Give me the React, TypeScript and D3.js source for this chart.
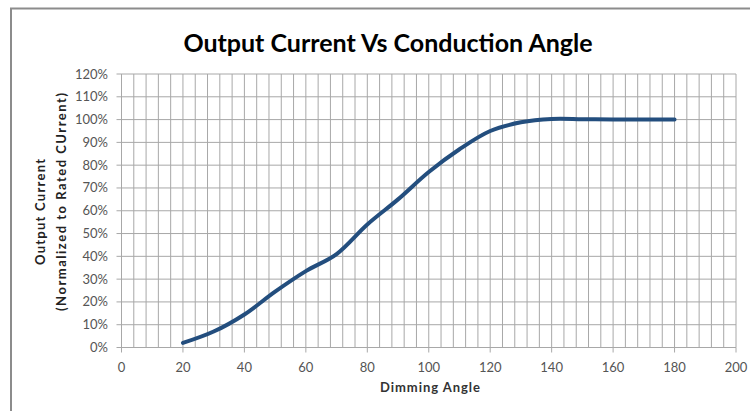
import React from 'react';
import * as d3 from 'd3';

const angles = [20, 30, 40, 50, 60, 70, 80, 90, 100, 110, 120, 130, 140, 150, 160, 170, 180];
const current = [2, 7, 14.5, 24.5, 33.5, 41, 54, 65, 77, 87, 95, 98.8, 100.3, 100.2, 100, 100, 100];
const xTicks = [0, 20, 40, 60, 80, 100, 120, 140, 160, 180, 200];
const yTicks = [0, 10, 20, 30, 40, 50, 60, 70, 80, 90, 100, 110, 120];
const xMinor = d3.range(0, 201, 4);

const W = 750;
const H = 411;
const font = 'Lato, "Open Sans", sans-serif';

export default function App() {
  const x = d3.scaleLinear().domain([0, 200]).range([121.5, 736]);
  const y = d3.scaleLinear().domain([0, 120]).range([347.5, 74]);

  const line = d3
    .line<number>()
    .x((_, i) => x(angles[i]))
    .y((d) => y(d))
    .curve(d3.curveCatmullRom.alpha(0.5));

  const grid = '#a8a8a8';

  return (
    <svg width={W} height={H} style={{ position: 'absolute', left: 0, top: 0 }}>
      <rect x={0} y={0} width={W} height={H} fill="#fff" />
      {/* chart area border */}
      <rect x={11} y={8.5} width={W + 20} height={H + 20} fill="none" stroke="#8c8c8c" strokeWidth={2} />

      <text x={388} y={52} textAnchor="middle" fontFamily={font} fontWeight="bold" fontSize={25} fill="#000">
        Output Current Vs Conduction Angle
      </text>

      {/* vertical gridlines */}
      {xMinor.map((v) => (
        <line key={'vx' + v} x1={x(v)} x2={x(v)} y1={y(120)} y2={y(0)} stroke={grid} strokeWidth={1} />
      ))}
      {/* horizontal gridlines */}
      {yTicks.map((v) => (
        <line key={'hy' + v} x1={x(0) - 5} x2={x(200)} y1={y(v)} y2={y(v)} stroke={grid} strokeWidth={1} />
      ))}
      {/* x major ticks */}
      {xTicks.map((v) => (
        <line key={'tx' + v} x1={x(v)} x2={x(v)} y1={y(0)} y2={y(0) + 5} stroke={grid} strokeWidth={1} />
      ))}

      {yTicks.map((v) => (
        <text key={'ly' + v} x={108} y={y(v) + 4.5} textAnchor="end" fontFamily={font} fontSize={13} fill="#555">
          {v}%
        </text>
      ))}
      {xTicks.map((v) => (
        <text key={'lx' + v} x={x(v)} y={372} textAnchor="middle" fontFamily={font} fontSize={13} fill="#555">
          {v}
        </text>
      ))}

      <text x={430} y={392} textAnchor="middle" fontFamily={font} fontWeight="bold" fontSize={13} fill="#333"
        textLength={100} lengthAdjust="spacing">
        Dimming  Angle
      </text>
      <g transform="rotate(-90)">
        <text x={-212} y={45} textAnchor="middle" fontFamily={font} fontWeight="bold" fontSize={13} fill="#222"
          textLength={106} lengthAdjust="spacing">
          Output Current
        </text>
        <text x={-202} y={66} textAnchor="middle" fontFamily={font} fontWeight="bold" fontSize={13} fill="#222"
          textLength={218} lengthAdjust="spacing">
          (Normalized to Rated CUrrent)
        </text>
      </g>

      <path d={line(current) || ''} fill="none" stroke="#234e7e" strokeWidth={4} strokeLinecap="round" />
    </svg>
  );
}
